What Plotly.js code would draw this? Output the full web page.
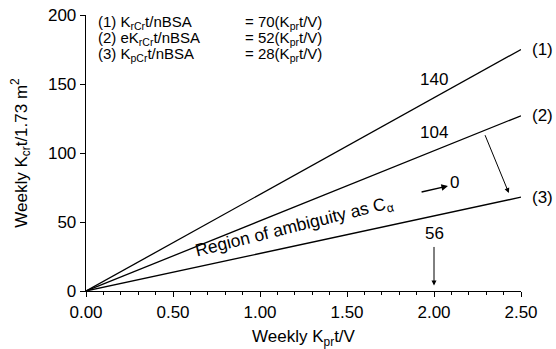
<!DOCTYPE html>
<html><head><meta charset="utf-8">
<script src="https://cdn.plot.ly/plotly-3.0.1.min.js"></script>
<style>html,body{margin:0;padding:0;background:#fff}#c{width:556px;height:349px}</style>
</head><body><div id="c"></div>
<script>
// Data
const xLine = [0, 2.5];
const line1 = [0, 175];   // (1) K_rCr t/nBSA = 70(K_pr t/V)
const line2 = [0, 127];   // (2) eK_rCr t/nBSA = 52(K_pr t/V)
const line3 = [0, 68];    // (3) K_pCr t/nBSA = 28(K_pr t/V)
const lineNames = ['(1)', '(2)', '(3)'];
const xTicks = [0, 0.5, 1.0, 1.5, 2.0, 2.5];
const yTicks = [0, 50, 100, 150, 200];
const legendLeft = [
  '(1) K<sub>rCr</sub>t/nBSA',
  '(2) eK<sub>rCr</sub>t/nBSA',
  '(3) K<sub>pCr</sub>t/nBSA'
];
const legendRight = [
  '= 70(K<sub>pr</sub>t/V)',
  '= 52(K<sub>pr</sub>t/V)',
  '= 28(K<sub>pr</sub>t/V)'
];
const valueLabels = ['140', '104', '56'];
const valueLabelX = [2.0, 2.0, 2.0];
const valueLabelY = [153, 115, 42];

const F = 'Liberation Sans, Arial, Helvetica, sans-serif';
const FS = 17;
const lineStyle = {color: '#000', width: 1.3};
const traces = [line1, line2, line3].map((ys, i) => ({
  x: xLine, y: ys, mode: 'lines', line: lineStyle, name: lineNames[i],
  hoverinfo: 'skip', showlegend: false
}));

const ann = [];
// end labels (1)(2)(3) outside the plot on the right
[line1, line2, line3].forEach((ys, i) => {
  ann.push({x: 1.02, y: ys[1], xref: 'paper', yref: 'y', text: lineNames[i], xanchor: 'left',
    showarrow: false, font: {family: F, size: FS, color: '#000'}});
});
// equation block
legendLeft.forEach((t, i) => {
  const yy = [194.8, 183, 171.2][i];
  ann.push({x: 0.06, y: yy, xref: 'x', yref: 'y', text: t, xanchor: 'left',
    showarrow: false, font: {family: F, size: 15, color: '#000'}});
  ann.push({x: 0.9, y: yy, xref: 'x', yref: 'y', text: legendRight[i], xanchor: 'left',
    showarrow: false, font: {family: F, size: 15, color: '#000'}});
});
// value labels
valueLabels.forEach((t, i) => {
  ann.push({x: valueLabelX[i], y: valueLabelY[i], xref: 'x', yref: 'y', text: t,
    showarrow: false, font: {family: F, size: FS, color: '#000'}});
});
// arrow from 56 down to axis
ann.push({x: 2.0, y: 4, ax: 2.0, ay: 33, xref: 'x', yref: 'y', axref: 'x', ayref: 'y',
  text: '', showarrow: true, arrowhead: 2, arrowsize: 1, arrowwidth: 1, arrowcolor: '#000'});
// arrow from line 2 to line 3
ann.push({x: 2.43, y: 71, ax: 2.29, ay: 114, xref: 'x', yref: 'y', axref: 'x', ayref: 'y',
  text: '', showarrow: true, arrowhead: 2, arrowsize: 1, arrowwidth: 1, arrowcolor: '#000'});
// region text
ann.push({x: 1.2, y: 46, xref: 'x', yref: 'y', text: 'Region of ambiguity as C<sub>α</sub>',
  textangle: -14, showarrow: false, font: {family: F, size: 17.5, color: '#000'}});
// small arrow ->0
ann.push({x: 2.08, y: 76, ax: 1.92, ay: 71.5, xref: 'x', yref: 'y', axref: 'x', ayref: 'y',
  text: '', showarrow: true, arrowhead: 2, arrowsize: 1, arrowwidth: 1.3, arrowcolor: '#000'});
ann.push({x: 2.12, y: 78.5, xref: 'x', yref: 'y', text: '0', showarrow: false,
  font: {family: F, size: FS, color: '#000'}});

const layout = {
  width: 556, height: 349,
  margin: {l: 86, r: 35, t: 15, b: 58},
  paper_bgcolor: '#fff', plot_bgcolor: '#fff',
  showlegend: false,
  font: {family: F, size: FS, color: '#000'},
  xaxis: {
    range: [0, 2.5], tickvals: xTicks, tickformat: '.2f',
    showgrid: false, zeroline: false, showline: true, linecolor: '#000', linewidth: 1.3,
    ticks: 'outside', ticklen: 5, tickcolor: '#000', tickwidth: 1,
    minor: {dtick: 0.1, ticks: 'outside', ticklen: 3, tickcolor: '#000', showgrid: false},
    tickfont: {family: F, size: FS, color: '#000'},
    title: {text: 'Weekly K<sub>pr</sub>t/V', font: {family: F, size: FS, color: '#000'}, standoff: 13}
  },
  yaxis: {
    range: [0, 200], tickvals: yTicks,
    showgrid: false, zeroline: false, showline: true, linecolor: '#000', linewidth: 1.3,
    ticks: 'outside', ticklen: 5, tickcolor: '#000', tickwidth: 1,
    tickfont: {family: F, size: FS, color: '#000'},
    title: {text: 'Weekly K<sub>cr</sub>t/1.73 m<sup>2</sup>', font: {family: F, size: FS, color: '#000'}, standoff: 16}
  },
  annotations: ann
};
Plotly.newPlot('c', traces, layout, {staticPlot: true, displayModeBar: false});
</script></body></html>
